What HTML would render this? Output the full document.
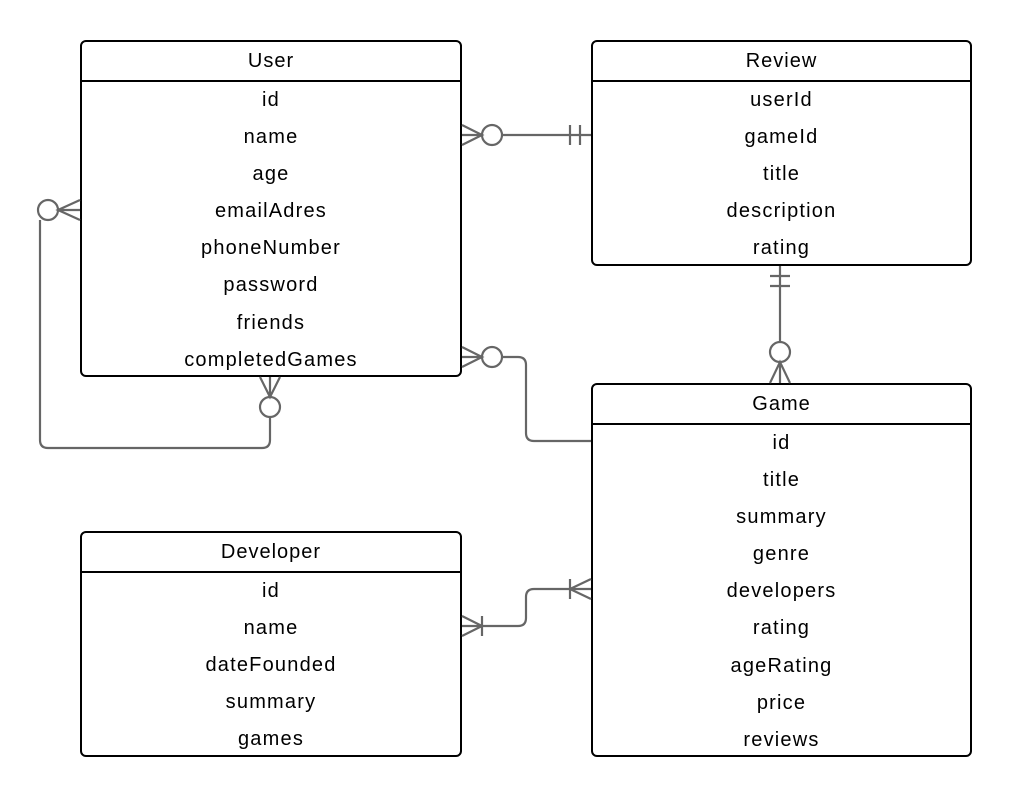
<!DOCTYPE html>
<html><head><style>
body{margin:0;background:#fff;width:1011px;height:796px;overflow:hidden;font-family:"Liberation Sans",sans-serif}
.b{position:absolute;border:2px solid #000;border-radius:6px;box-sizing:border-box;background:#fff}
.h{height:40px;border-bottom:2px solid #000;box-sizing:border-box;text-align:center;line-height:39px;font-size:20px;letter-spacing:1px}
.r{height:37.1px;line-height:36px;text-align:center;font-size:20px;letter-spacing:1.2px}
svg{position:absolute;left:0;top:0}
</style></head><body>
<div class="b" style="left:80px;top:40px;width:382px;height:337px"><div class="h">User</div>
<div class="r">id</div><div class="r">name</div><div class="r">age</div><div class="r">emailAdres</div><div class="r">phoneNumber</div><div class="r">password</div><div class="r">friends</div><div class="r">completedGames</div></div>
<div class="b" style="left:591px;top:40px;width:381px;height:226px"><div class="h">Review</div>
<div class="r">userId</div><div class="r">gameId</div><div class="r">title</div><div class="r">description</div><div class="r">rating</div></div>
<div class="b" style="left:591px;top:383px;width:381px;height:374px"><div class="h">Game</div>
<div class="r">id</div><div class="r">title</div><div class="r">summary</div><div class="r">genre</div><div class="r">developers</div><div class="r">rating</div><div class="r">ageRating</div><div class="r">price</div><div class="r">reviews</div></div>
<div class="b" style="left:80px;top:531px;width:382px;height:226px"><div class="h">Developer</div>
<div class="r">id</div><div class="r">name</div><div class="r">dateFounded</div><div class="r">summary</div><div class="r">games</div></div>
<svg width="1011" height="796" fill="none" stroke="#666" stroke-width="2.2">
<path d="M502 135H591M570 125V145M580 125V145M462 125L482 135L462 145M462 135H482"/>
<circle cx="492" cy="135" r="10"/>
<path d="M40 220V440Q40 448 48 448H262Q270 448 270 440V417"/>
<circle cx="48" cy="210" r="10"/><path d="M80 200L58 210L80 220M58 210H80"/>
<circle cx="270" cy="407" r="10"/><path d="M260 377L270 397L280 377M270 377V397"/>
<path d="M780 266V342M770 276H790M770 286H790"/>
<circle cx="780" cy="352" r="10"/><path d="M770 383L780 362L790 383M780 362V383"/>
<circle cx="492" cy="357" r="10"/><path d="M462 347L482 357L462 367M462 357H482M502 357H518Q526 357 526 365V433Q526 441 534 441H591"/>
<path d="M462 616L482 626L462 636M482 616V636M462 626H518Q526 626 526 618V597Q526 589 534 589H591M570 579V599M591 579L570 589L591 599"/>
</svg>
</body></html>
